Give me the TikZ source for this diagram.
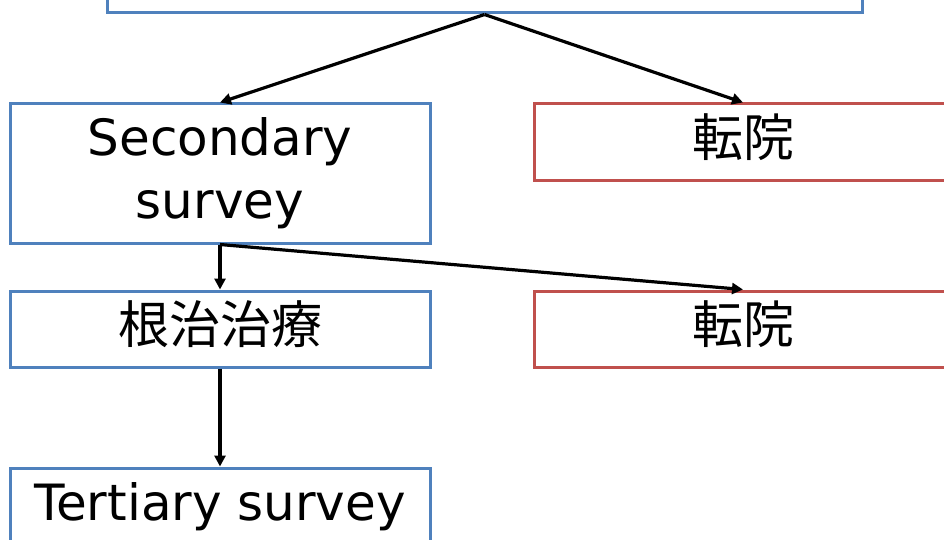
\documentclass[tikz,border=0pt]{standalone}
\usepackage{fontspec}
\setmainfont{DejaVu Sans}
\newfontfamily\cjk{Noto Sans CJK JP}
\usetikzlibrary{arrows.meta}
\definecolor{boxblue}{HTML}{4F81BD}
\definecolor{boxred}{HTML}{C0504D}
\begin{document}
\begin{tikzpicture}[x=1pt,y=1pt,
  bluebox/.style={draw=boxblue,line width=3pt,rectangle,inner sep=0pt,minimum width=420pt,align=center},
  redbox/.style={draw=boxred,line width=3pt,rectangle,inner sep=0pt,minimum width=418pt,minimum height=77pt,align=center},
  latintext/.style={font=\fontsize{50}{63}\selectfont},
  cjktext/.style={font=\cjk\fontsize{51}{60}\selectfont,text height=45pt,text depth=16pt},
  conn/.style={line width=3.2pt,-{Triangle[length=11pt,width=11pt]}}]
\useasboundingbox (0,0) rectangle (944,-540);
\clip (0,0) rectangle (944,-540);
\node[bluebox,minimum width=755pt,minimum height=80pt] (top) at (484.5,27) {};
\node[bluebox,minimum height=139pt,latintext] (sec) at (220,-173.5) {Secondary\\survey};
\node[redbox,cjktext] (tr1) at (743,-142.5) {転院};
\node[bluebox,minimum height=76pt,cjktext] (kon) at (220,-329) {根治治療};
\node[redbox,minimum height=76pt,cjktext] (tr2) at (743,-329) {転院};
\node[bluebox,minimum height=77pt,latintext] (ter) at (220,-506.5) {Tertiary survey};
\draw[conn] (top.south) -- (sec.north);
\draw[conn] (top.south) -- (tr1.north);
\draw[conn] (sec.south) -- (kon.north);
\draw[conn] (sec.south) -- (tr2.north);
\draw[conn] (kon.south) -- (ter.north);
\end{tikzpicture}
\end{document}
